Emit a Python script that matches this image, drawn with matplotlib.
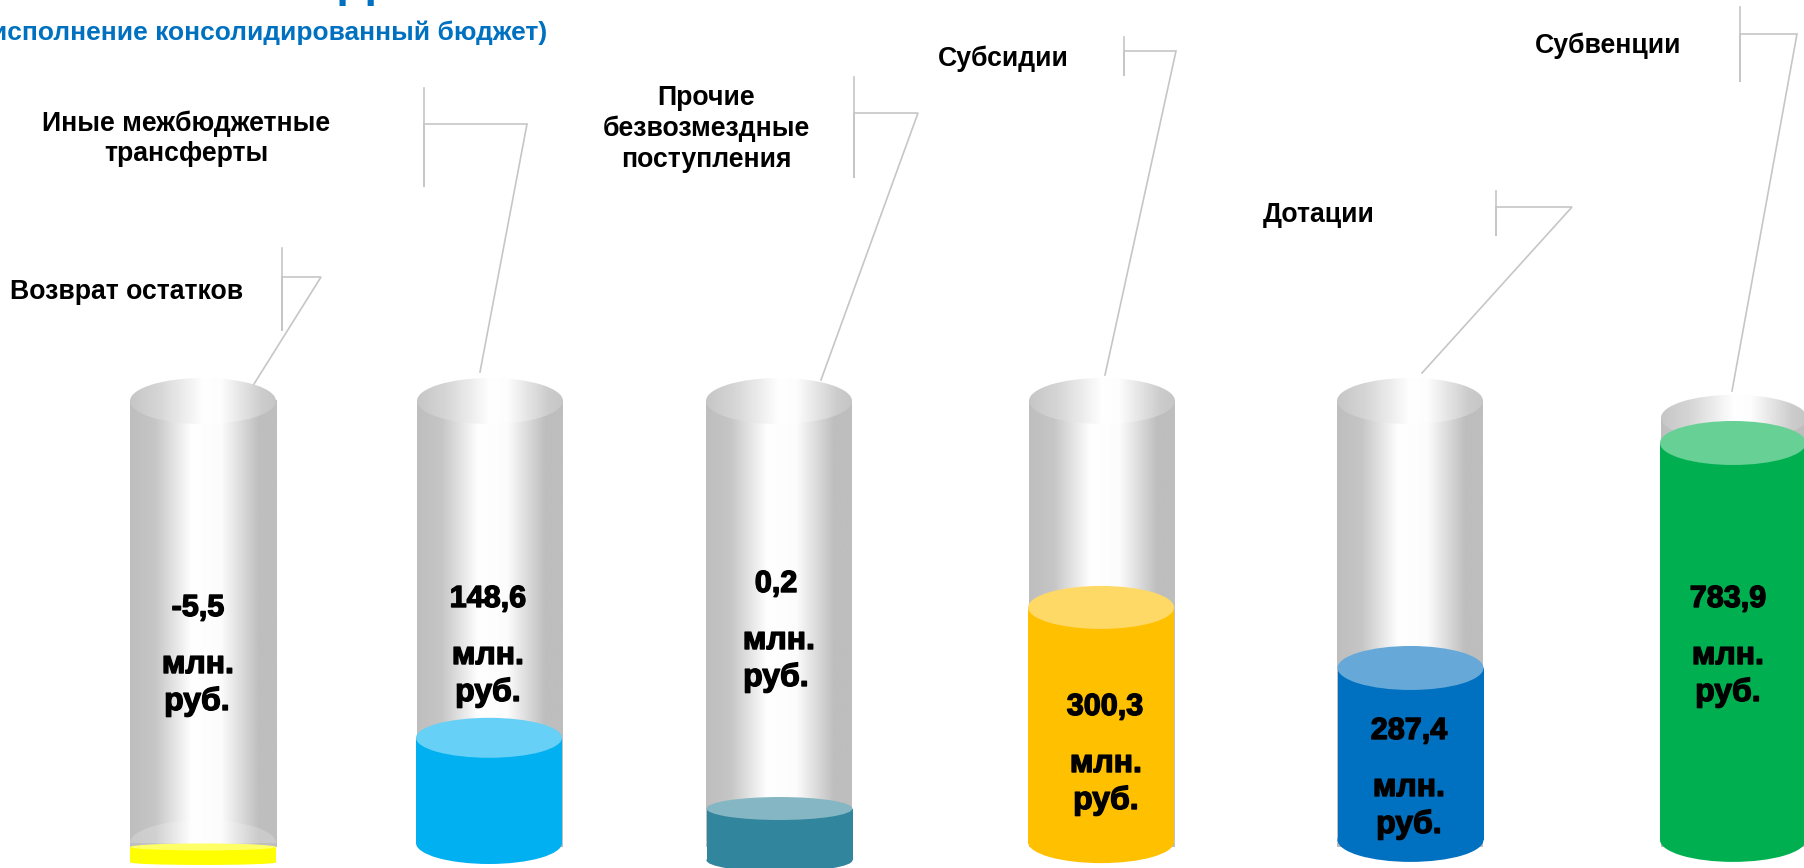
import matplotlib
matplotlib.use("Agg")
import numpy as np
import matplotlib.pyplot as plt
import matplotlib.patheffects as pe
from matplotlib.colors import LinearSegmentedColormap
from matplotlib.patches import Ellipse

# =========================
# DATA
# =========================
categories = [
    "Возврат остатков",
    "Иные межбюджетные\nтрансферты",
    "Прочие\nбезвозмездные\nпоступления",
    "Субсидии",
    "Дотации",
    "Субвенции",
]
value_labels = ["-5,5", "148,6", "0,2", "300,3", "287,4", "783,9"]
unit_line1 = "млн."
unit_line2 = "руб."
subtitle = "(исполнение консолидированный бюджет)"

# liquid level in each tube, percent of tube height
fill_levels = [-0.9, 23.8, 7.8, 53.3, 39.6, 90.5]
fill_bases = [-4.4, 0, -3.9, 0.2, 0.7, 0.7]
tube_levels = [100, 100, 100, 100, 100, 96.2]

side_colors = ["#FFFF00", "#00B0F0", "#31859C", "#FFC000", "#0070C0", "#00B050"]
top_colors = ["#FFFF66", "#66D0F6", "#84B6C4", "#FFD966", "#66A9D9", "#66D095"]

# =========================
# LAYOUT (pixels of the 1804x868 picture)
# =========================
W, H = 1804, 868
TUBE_W = 146
TUBE_TOP = 401
TUBE_BOTTOM = 843
PX_PER_LEVEL = (TUBE_BOTTOM - TUBE_TOP) / 100
tube_left = [130, 417, 706, 1029, 1337, 1661]
fill_shift = [0, -1, 0.5, -1, 0.5, -1]
fill_hh = [3.5, 20, 11.5, 21.5, 22, 22]
base_hh = [2.5, 21, 11.5, 21, 22, 22]

value_x = [198, 488, 776, 1105, 1409, 1728]
unit_x = [198, 488, 779, 1106, 1409, 1728]
unit2_x = [197, 488, 776, 1106, 1409, 1728]
value_y = [616, 607, 592, 715, 739, 607]

label_x = [127, 186, 706, 1003, 1319, 1608]
label_y = [292, 139, 129, 59, 215, 46]

leaders = [
    [(282, 248), (282, 331), (282, 277), (321, 277), (254, 384)],
    [(424, 88), (424, 187), (424, 124), (527, 124), (480, 372)],
    [(854, 77), (854, 178), (854, 113), (918, 113), (821, 380)],
    [(1124, 37), (1124, 76), (1124, 51), (1176, 51), (1105, 375)],
    [(1496, 191), (1496, 236), (1496, 207), (1572, 207), (1422, 373)],
    [(1740, 7), (1740, 82), (1740, 34), (1797, 34), (1732, 391)],
]

body_cmap = LinearSegmentedColormap.from_list("body", [
    (0, "#BEBEBE"), (0.17, "#C6C6C6"), (0.42, "#FFFFFF"),
    (0.62, "#FCFCFC"), (0.88, "#BEBEBE"), (1, "#BEBEBE")])
cap_cmap = LinearSegmentedColormap.from_list("cap", [
    (0, "#C6C6C6"), (0.2, "#D6D6D6"), (0.5, "#FFFFFF"),
    (0.62, "#FDFDFD"), (0.9, "#CCCCCC"), (1, "#C6C6C6")])
gradient = np.linspace(0, 1, 256).reshape(1, -1)

fig = plt.figure(figsize=(W / 100, H / 100), dpi=100, facecolor="white")

# =========================
# TUBES
# =========================
for i in range(len(categories)):
    ax = fig.add_axes([tube_left[i] / W, 1 - TUBE_BOTTOM / H,
                       TUBE_W / W, (TUBE_BOTTOM - TUBE_TOP) / H])
    ax.axis("off")

    top = tube_levels[i]
    cap_height = 2 * 23 / PX_PER_LEVEL

    body = ax.imshow(gradient, cmap=body_cmap, aspect="auto", extent=(-1, 1, -1, top), zorder=1)
    body.set_clip_box(fig.bbox)

    cap = Ellipse((0, top), 2, cap_height, facecolor="none", edgecolor="none", clip_on=False)
    ax.add_patch(cap)
    im = ax.imshow(gradient, cmap=cap_cmap, aspect="auto",
                   extent=(-1, 1, top - cap_height / 2, top + cap_height / 2), zorder=2)
    im.set_clip_box(fig.bbox)
    im.set_clip_path(cap)

    # lighter arc where the tube floor shows through
    ax.add_patch(Ellipse((0, 0), 2, cap_height, facecolor="white", edgecolor="none",
                         alpha=0.2, zorder=3))

    shift = fill_shift[i] / (TUBE_W / 2)
    ax.bar(shift, fill_levels[i] - fill_bases[i], width=2, bottom=fill_bases[i],
           color=side_colors[i], zorder=4, clip_on=False)
    ax.add_patch(Ellipse((shift, fill_bases[i]), 2, 2 * base_hh[i] / PX_PER_LEVEL,
                         facecolor=side_colors[i], edgecolor="none", zorder=4, clip_on=False))
    ax.add_patch(Ellipse((shift, fill_levels[i]), 2, 2 * fill_hh[i] / PX_PER_LEVEL,
                         facecolor=top_colors[i], edgecolor="none", zorder=5, clip_on=False))

    ax.set_xlim(-1, 1)
    ax.set_ylim(0, 100)

# =========================
# LEADERS AND TEXT
# =========================
over = fig.add_axes([0, 0, 1, 1], zorder=10)
over.set_xlim(0, W)
over.set_ylim(H, 0)
over.axis("off")

for pts in leaders:
    xs, ys = zip(*pts)
    over.plot(xs, ys, color="#C6C6C6", lw=1.2, solid_joinstyle="miter", zorder=1)

label_font = ["Liberation Sans", "DejaVu Sans"]
for i, name in enumerate(categories):
    over.text(label_x[i], label_y[i], name, ha="center", va="center", fontsize=19.2,
              fontweight="bold", family=label_font, color="black", linespacing=1.22)

# no condensed heavy face is installed, so thicken the bold one with a stroke
heavy = [pe.withStroke(linewidth=1.0, foreground="black")]
for i in range(len(categories)):
    over.text(value_x[i], value_y[i], value_labels[i], ha="center", va="baseline",
              fontsize=22, fontweight="bold", family=label_font, color="black",
              path_effects=heavy)
    over.text(unit_x[i], value_y[i] + 57, unit_line1, ha="center", va="baseline",
              fontsize=23, fontweight="bold", family=label_font, color="black",
              path_effects=heavy)
    over.text(unit2_x[i], value_y[i] + 94, unit_line2, ha="center", va="baseline",
              fontsize=23, fontweight="bold", family=label_font, color="black",
              path_effects=heavy)

over.text(547, 33, subtitle, ha="right", va="center", fontsize=19, fontweight="bold",
          family=label_font, color="#0070C0")
# only the feet of the cut-off heading letter are left in the frame
over.text(356, -4, "Д", ha="center", va="baseline", fontsize=36, fontweight="bold",
          family=label_font, color="#0070C0")

fig.savefig("out.png", dpi=100)
plt.close(fig)
